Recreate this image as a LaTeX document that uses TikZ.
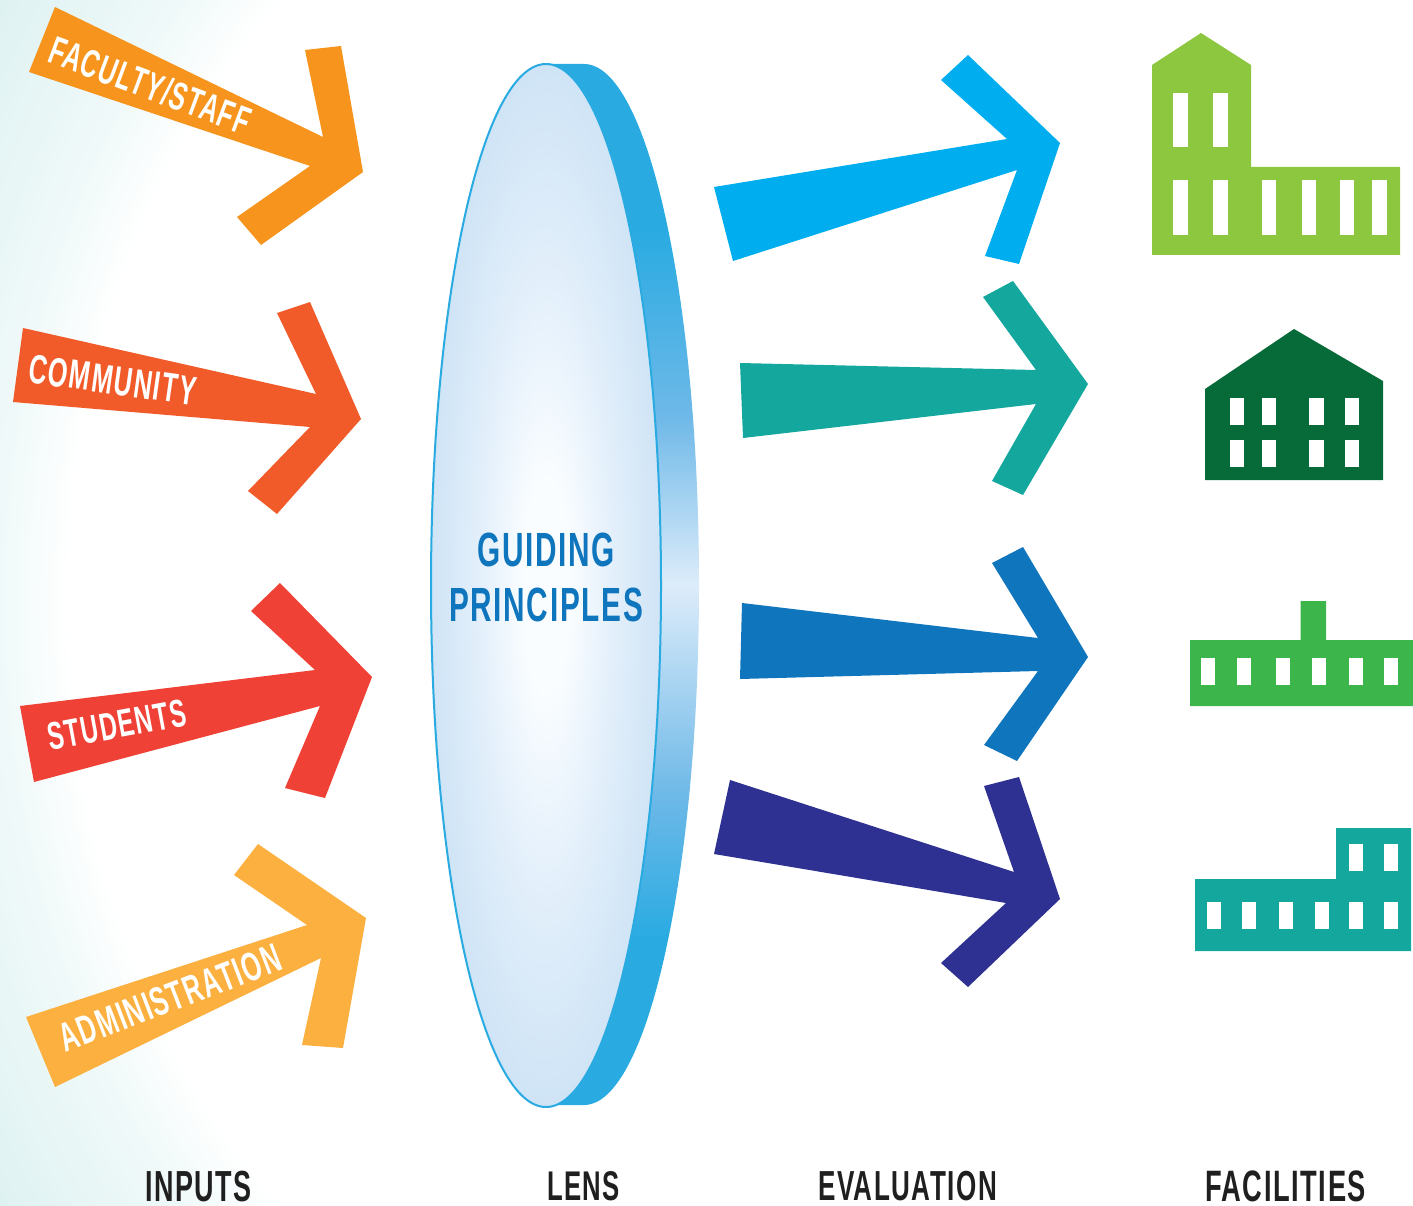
\documentclass[tikz,border=0pt]{standalone}
\usepackage{fontspec}
\setmainfont{Liberation Sans}
\newfontfamily\cond[FakeStretch=0.62,LetterSpace=3.5]{Liberation Sans}
\definecolor{lensEdge}{HTML}{29ABE2}\definecolor{lensIn}{HTML}{0F75BC}
\definecolor{bgA}{HTML}{F0F9F9}\definecolor{bgB}{HTML}{DFF2F2}
\definecolor{lensC}{HTML}{FAFDFF}\definecolor{lensM}{HTML}{E4F0FB}\definecolor{lensO}{HTML}{CFE4F6}
\definecolor{rimMid}{HTML}{DDECFA}\definecolor{rimQ}{HTML}{6FB9E8}
\pgfdeclareradialshading{bgwash}{\pgfpoint{0bp}{0bp}}{color(0bp)=(white);color(22.5bp)=(white);color(25bp)=(bgA);color(30bp)=(bgB);color(50bp)=(bgB)}
\pgfdeclareradialshading{lensfill}{\pgfpoint{0bp}{0bp}}{color(0bp)=(lensC);color(5bp)=(lensC);color(14bp)=(lensM);color(25bp)=(lensO);color(50bp)=(lensO)}
\pgfdeclareverticalshading{rimfill}{100bp}{color(0bp)=(lensEdge);color(33bp)=(lensEdge);color(40bp)=(rimQ);color(50bp)=(rimMid);color(58bp)=(rimQ);color(67bp)=(lensEdge);color(100bp)=(lensEdge)}
\begin{document}
\begin{tikzpicture}[x=1pt,y=-1pt,
  wall/.style={fill=#1,draw=none},
  win/.style={fill=white,draw=none},
  inlabel/.style={text=white,inner sep=0pt},
  caption/.style={text=black!88,inner sep=0pt}]
\definecolor{cFac}{HTML}{F7941D}\definecolor{cCom}{HTML}{F15A29}
\definecolor{cStu}{HTML}{EF4136}\definecolor{cAdm}{HTML}{FBB040}
\definecolor{cE1}{HTML}{00AEEF}\definecolor{cE2}{HTML}{14A79D}
\definecolor{cE3}{HTML}{0F75BC}\definecolor{cE4}{HTML}{2E3192}
\definecolor{cB1}{HTML}{8DC63F}\definecolor{cB2}{HTML}{076A39}
\definecolor{cB3}{HTML}{3CB54A}\definecolor{cB4}{HTML}{14A79D}
\useasboundingbox (0,0) rectangle (1413,1206);
% background wash
\begin{scope}
\clip (0,0) rectangle (700,1206);
\shade[shading=bgwash] (0,-291) rectangle (1400,1497);
\end{scope}
% input arrows
\fill[cFac] (55,7)--(323,137)--(305,50)--(341,46)--(363,172)--(261,245)--(237,217)--(310,166)--(29,72)--cycle;
\fill[cCom] (23,328)--(316,394)--(277,313)--(310,302)--(361,419)--(277,514)--(248,491)--(310,427)--(13,402)--cycle;
\fill[cStu] (20,706)--(315,670)--(251,611)--(280,583)--(372,677)--(325,798)--(285,788)--(320,706)--(34,782)--cycle;
\fill[cAdm] (26,1017)--(307,925)--(234,875)--(258,844)--(366,918)--(343,1048)--(302,1045)--(321,958)--(55,1087)--cycle;
\node[inlabel,rotate=-20.5,font=\cond\bfseries\fontsize{39.5}{39.5}\selectfont] (faculty) at (150,85.5) {FACULTY/STAFF};
\node[inlabel,rotate=-8,font=\cond\bfseries\fontsize{41}{41}\selectfont] (community) at (112.5,380) {COMMUNITY};
\node[inlabel,rotate=10.5,font=\cond\bfseries\fontsize{39}{39}\selectfont] (students) at (117,725) {STUDENTS};
\node[inlabel,rotate=21,font=\cond\bfseries\fontsize{40.5}{40.5}\selectfont] (admin) at (170,998) {ADMINISTRATION};
% lens
\shade[shading=rimfill]
  (546,64) -- (584,64) arc[start angle=-90,end angle=90,x radius=115,y radius=520.5] -- (546,1105) -- cycle;
\path[draw=lensEdge,line width=2pt,shading=lensfill]
  (546,585.5) ellipse[x radius=115,y radius=521.5];
\node[text=lensIn,font=\cond\bfseries\fontsize{48}{55}\selectfont,align=center,inner sep=0pt] (lens) at (546,577) {GUIDING\\PRINCIPLES};
% evaluation arrows
\fill[cE1] (714,187)--(1007,139)--(941,80)--(968,55)--(1060,143)--(1019,264)--(985,256)--(1017,170)--(733,261)--cycle;
\fill[cE2] (740,363)--(1036,370)--(983,297)--(1013,281)--(1088,384)--(1023,495)--(992,481)--(1036,404)--(743,438)--cycle;
\fill[cE3] (742,603)--(1038,638)--(992,563)--(1023,547)--(1088,657)--(1017,761)--(984,745)--(1038,671)--(740,679)--cycle;
\fill[cE4] (730,780)--(1014,872)--(984,786)--(1019,777)--(1060,899)--(968,987)--(941,963)--(1006,903)--(714,854)--cycle;
% buildings
\fill[wall=cB1] (1152,65)--(1201,33)--(1251,65)--(1251,167)--(1400,167)--(1400,255)--(1152,255)--cycle;
\foreach \x/\w in {1173/15,1213/15}{\fill[win] (\x,93) rectangle ++(\w,54);}
\foreach \x/\w in {1173/15,1213/15,1262/14,1302/14,1340/14,1372/15}{\fill[win] (\x,180) rectangle ++(\w,55);}
\fill[wall=cB2] (1205,389)--(1294,329)--(1383,381)--(1383,480)--(1205,480)--cycle;
\foreach \x/\w in {1230/14,1262/14,1309/15,1345/14}{\fill[win] (\x,398) rectangle ++(\w,27);\fill[win] (\x,440) rectangle ++(\w,27);}
\fill[wall=cB3] (1190,640)--(1300.5,640)--(1300.5,601)--(1326,601)--(1326,640)--(1413,640)--(1413,706)--(1190,706)--cycle;
\foreach \x in {1201,1237,1276,1311.5,1349,1384}{\fill[win] (\x,658) rectangle ++(14,27);}
\fill[wall=cB4] (1195,879)--(1336,879)--(1336,828)--(1411,828)--(1411,951)--(1195,951)--cycle;
\foreach \x in {1349,1384}{\fill[win] (\x,844) rectangle ++(14,27);}
\foreach \x in {1207,1242,1279,1315,1349,1384}{\fill[win] (\x,902) rectangle ++(14,27);}
% captions
\node[caption,font=\cond\bfseries\fontsize{43.5}{43.5}\selectfont] (inputs) at (198.5,1186.5) {INPUTS};
\node[caption,font=\cond\bfseries\fontsize{41.5}{41.5}\selectfont] (lenscap) at (583.5,1186.5) {LENS};
\node[caption,font=\cond\bfseries\fontsize{42}{42}\selectfont] (evaluation) at (907.5,1186.5) {EVALUATION};
\node[caption,font=\cond\bfseries\fontsize{44}{44}\selectfont] (facilities) at (1285.5,1186.5) {FACILITIES};
\end{tikzpicture}
\end{document}
